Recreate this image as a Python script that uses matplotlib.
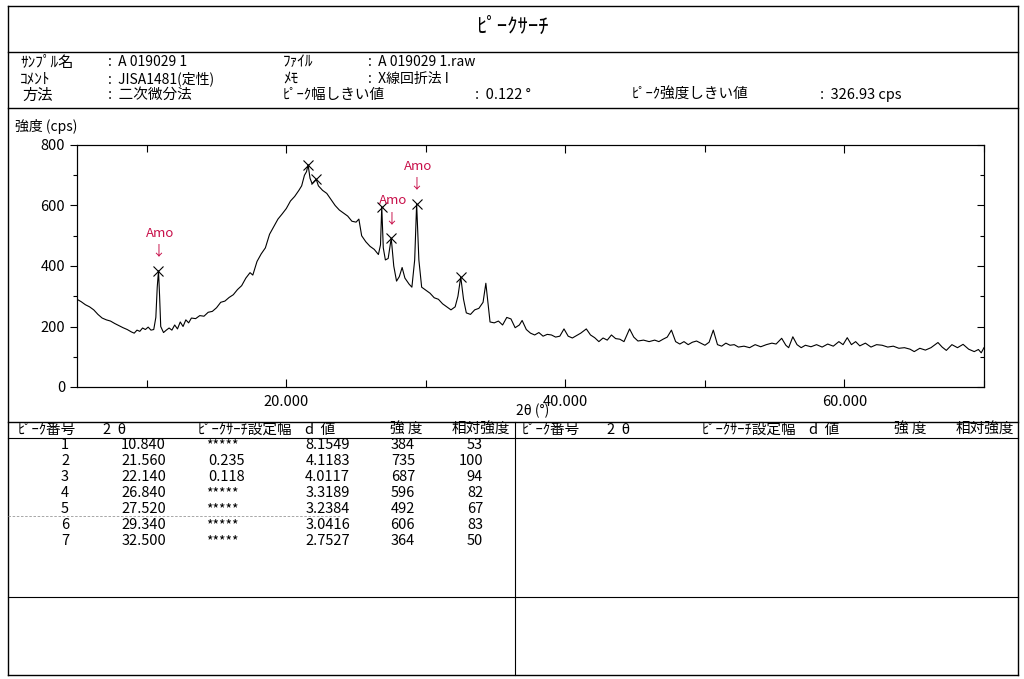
import matplotlib
matplotlib.use('Agg')
import matplotlib.pyplot as plt
from matplotlib.ticker import MultipleLocator

plt.rcParams['font.family'] = ['Noto Sans CJK JP', 'DejaVu Sans']

W, H = 1024, 679

# pattern (2theta in degrees, intensity in cps)
scan_2theta = [
    5.0, 5.3, 5.6, 5.9, 6.2, 6.5, 6.8, 7.1, 7.4, 7.7, 8.0, 8.3, 8.6, 8.9, 9.1, 9.3, 9.5, 9.7, 9.9,
    10.1, 10.3, 10.5, 10.65, 10.75, 10.84, 10.92, 11.0, 11.2, 11.4, 11.6, 11.8, 12.0, 12.2, 12.4,
    12.6, 12.8, 13.0, 13.2, 13.5, 13.8, 14.1, 14.4, 14.7, 15.0, 15.3, 15.6, 15.9, 16.2, 16.5, 16.8,
    17.1, 17.4, 17.6, 17.9, 18.2, 18.5, 18.8, 19.1, 19.4, 19.7, 20.0, 20.3, 20.6, 20.9, 21.1, 21.3,
    21.45, 21.56, 21.7, 21.85, 22.0, 22.14, 22.3, 22.6, 22.9, 23.2, 23.5, 23.8, 24.1, 24.4, 24.7,
    25.0, 25.2, 25.4, 25.7, 26.0, 26.3, 26.6, 26.75, 26.84, 26.95, 27.1, 27.3, 27.52, 27.7, 27.9,
    28.1, 28.3, 28.5, 28.8, 29.0, 29.2, 29.34, 29.5, 29.7, 30.0, 30.3, 30.6, 30.9, 31.2, 31.5, 31.8,
    32.1, 32.3, 32.5, 32.7, 32.9, 33.2, 33.5, 33.8, 34.1, 34.3, 34.45, 34.6, 34.9, 35.2, 35.5, 35.8,
    36.1, 36.4, 36.7, 36.9, 37.2, 37.5, 37.8, 38.1, 38.4, 38.7, 39.0, 39.3, 39.6, 39.9, 40.2, 40.5,
    40.8, 41.1, 41.5, 41.8, 42.1, 42.4, 42.7, 43.0, 43.3, 43.6, 43.9, 44.2, 44.6, 44.9, 45.2, 45.6,
    46.0, 46.4, 46.7, 47.0, 47.3, 47.6, 47.9, 48.2, 48.5, 48.8, 49.1, 49.4, 49.7, 50.0, 50.3, 50.6,
    50.9, 51.2, 51.5, 51.8, 52.1, 52.4, 52.8, 53.2, 53.6, 54.0, 54.4, 54.8, 55.1, 55.5, 55.8, 56.0,
    56.3, 56.6, 56.9, 57.2, 57.6, 58.0, 58.4, 58.8, 59.2, 59.6, 59.9, 60.2, 60.5, 60.8, 61.1, 61.5,
    61.9, 62.3, 62.7, 63.1, 63.5, 63.9, 64.3, 64.7, 65.0, 65.4, 65.8, 66.2, 66.7, 67.0, 67.3, 67.7,
    68.1, 68.5, 68.9, 69.3, 69.6, 69.8, 70.0,
]
scan_cps = [
    290, 282, 272, 265, 255, 240, 228, 222, 218, 210, 203, 196, 190, 182, 178, 188, 184, 195, 190,
    198, 188, 190, 230, 330, 384, 300, 200, 180, 188, 195, 188, 205, 192, 215,
    200, 222, 212, 228, 226, 236, 234, 247, 250, 262, 280, 284, 296, 305, 322, 335,
    360, 378, 370, 415, 440, 460, 505, 530, 555, 572, 590, 615, 630, 650, 665, 700,
    712, 735, 690, 672, 680, 687, 665, 650, 640, 620, 600, 585, 575, 565, 548,
    545, 555, 500, 480, 465, 455, 438, 470, 596, 460, 420, 425, 492, 400, 350,
    365, 395, 360, 340, 330, 420, 606, 420, 330, 320, 310, 295, 290, 275, 265, 255,
    265, 300, 364, 290, 245, 240, 255, 260, 280, 343, 280, 215, 212, 218, 205, 230,
    225, 196, 205, 220, 190, 178, 172, 180, 168, 174, 172, 165, 168, 192, 168, 162,
    170, 178, 192, 172, 163, 150, 162, 155, 172, 160, 158, 150, 192, 165, 152, 155,
    150, 155, 150, 158, 165, 188, 150, 142, 150, 140, 148, 152, 145, 138, 148, 188,
    140, 135, 145, 138, 140, 132, 135, 130, 140, 133, 140, 145, 142, 161, 138, 130,
    166, 140, 130, 138, 133, 140, 132, 142, 135, 150, 140, 163, 140, 150, 136, 145,
    132, 140, 138, 132, 135, 128, 130, 125, 117, 128, 122, 130, 147, 132, 121, 140,
    130, 141, 125, 117, 124, 113, 130,
]

# peak search table
peak_no = [1, 2, 3, 4, 5, 6, 7]
peak_2theta = [10.840, 21.560, 22.140, 26.840, 27.520, 29.340, 32.500]
peak_width = ['*****', '0.235', '0.118', '*****', '*****', '*****', '*****']
peak_d = [8.1549, 4.1183, 4.0117, 3.3189, 3.2384, 3.0416, 2.7527]
peak_int = [384, 735, 687, 596, 492, 606, 364]
peak_rel = [53, 100, 94, 82, 67, 83, 50]
amo_peaks = [1, 5, 6]

fig = plt.figure(figsize=(W / 100, H / 100), dpi=100)

# page layer in pixel coordinates
bg = fig.add_axes([0, 0, 1, 1], zorder=0)
bg.set_xlim(0, W)
bg.set_ylim(H, 0)
bg.axis('off')

def hline(y, x0=8, x1=1018, **kw):
    bg.plot([x0, x1], [y, y], color=kw.pop('color', 'k'), lw=kw.pop('lw', 1.0), **kw)

def vline(x, y0, y1, **kw):
    bg.plot([x, x], [y0, y1], color='k', lw=kw.pop('lw', 1.0), **kw)

# frame
hline(6)
hline(52)
hline(108)
hline(422)
hline(438, lw=0.8)
hline(597, lw=0.8)
hline(675)
vline(8, 6, 675)
vline(1018, 6, 675)
vline(515, 422, 675, lw=0.8)
hline(516, x1=340, color='#999999', lw=0.6, ls=(0, (3, 2)))

bg.text(512, 27, 'ﾋﾟｰｸｻｰﾁ', ha='center', va='center', fontsize=15)

small = 10
head = [
    (20, 62, 'ｻﾝﾌﾟﾙ名', 11), (108, 62, ':  A 019029 1', small),
    (283, 62, 'ﾌｧｲﾙ', 11), (368, 62, ':  A 019029 1.raw', small),
    (20, 79, 'ｺﾒﾝﾄ', 11), (108, 79, ':  JISA1481(定性)', small),
    (283, 79, 'ﾒﾓ', 11), (368, 79, ':  X線回折法 I', small),
    (22, 95, '方法', 11), (108, 95, ':  二次微分法', 10.5),
    (283, 95, 'ﾋﾟｰｸ幅しきい値', 10.5), (475, 95, ':  0.122 °', 10.5),
    (632, 95, 'ﾋﾟｰｸ強度しきい値', 10.5), (820, 95, ':  326.93 cps', 10.5),
]
for x, y, s, fs in head:
    bg.text(x, y, s, ha='left', va='center', fontsize=fs)

bg.text(15, 127, '強度 (cps)', ha='left', va='center', fontsize=10)
bg.text(516, 411, '2θ (°)', ha='left', va='center', fontsize=10)

# table header, both halves
cols = [(18, 'ﾋﾟｰｸ番号'), (103, '2  θ'), (198, 'ﾋﾟｰｸｻｰﾁ設定幅'), (305, 'd  値'),
        (390, '強 度'), (452, '相対強度')]
for off in (0, 504):
    for x, s in cols:
        bg.text(x + off, 430, s, ha='left', va='center', fontsize=10.5)

row_y = [445, 461, 477, 493, 509, 525, 541]
for i, y in enumerate(row_y):
    bg.text(65, y, str(peak_no[i]), ha='center', va='center', fontsize=10.5)
    bg.text(166, y, f'{peak_2theta[i]:.3f}', ha='right', va='center', fontsize=10.5)
    if peak_width[i].startswith('*'):
        bg.text(206, y, peak_width[i], ha='left', va='center', fontsize=10)
    else:
        bg.text(245, y, peak_width[i], ha='right', va='center', fontsize=10.5)
    bg.text(350, y, f'{peak_d[i]:.4f}', ha='right', va='center', fontsize=10.5)
    bg.text(415, y, str(peak_int[i]), ha='right', va='center', fontsize=10.5)
    bg.text(483, y, str(peak_rel[i]), ha='right', va='center', fontsize=10.5)

# chart
ax = fig.add_axes([77 / W, 1 - 387 / H, 907 / W, 242 / H], zorder=2)
ax.plot(scan_2theta, scan_cps, color='k', lw=0.8)
ax.plot(peak_2theta, peak_int, ls='none', marker='x', ms=7, mew=0.8, color='k')

amo_col = '#c8104a'
for n in amo_peaks:
    x, y = peak_2theta[n - 1], peak_int[n - 1]
    ax.annotate('↓', (x, y), xytext=(0, 14), textcoords='offset points',
                ha='center', va='center', color=amo_col, fontsize=10)
    ax.annotate('Amo', (x, y), xytext=(1, 27), textcoords='offset points',
                ha='center', va='center', color=amo_col, fontsize=9.5)

ax.set_xlim(5, 70)
ax.set_ylim(0, 800)
ax.xaxis.set_minor_locator(MultipleLocator(10))
ax.set_xticks([20, 40, 60])
ax.set_xticklabels(['20.000', '40.000', '60.000'])
ax.yaxis.set_major_locator(MultipleLocator(200))
ax.yaxis.set_minor_locator(MultipleLocator(100))
ax.tick_params(axis='x', which='both', direction='in', top=True, labelsize=10.5, pad=6)
ax.tick_params(axis='x', which='major', length=6, width=0.8)
ax.tick_params(axis='x', which='minor', length=5, width=0.8)
ax.tick_params(axis='y', which='both', direction='out', labelsize=10.5, width=0.8)
ax.tick_params(axis='y', which='major', length=5)
ax.tick_params(axis='y', which='minor', length=3)
for sp in ax.spines.values():
    sp.set_linewidth(0.8)

axr = ax.twinx()
axr.set_ylim(0, 800)
axr.yaxis.set_major_locator(MultipleLocator(200))
axr.yaxis.set_minor_locator(MultipleLocator(100))
axr.tick_params(axis='y', which='both', direction='in', labelright=False, width=0.8)
axr.tick_params(axis='y', which='major', length=5)
axr.tick_params(axis='y', which='minor', length=3)

fig.savefig('out.png', dpi=100, facecolor='white')
